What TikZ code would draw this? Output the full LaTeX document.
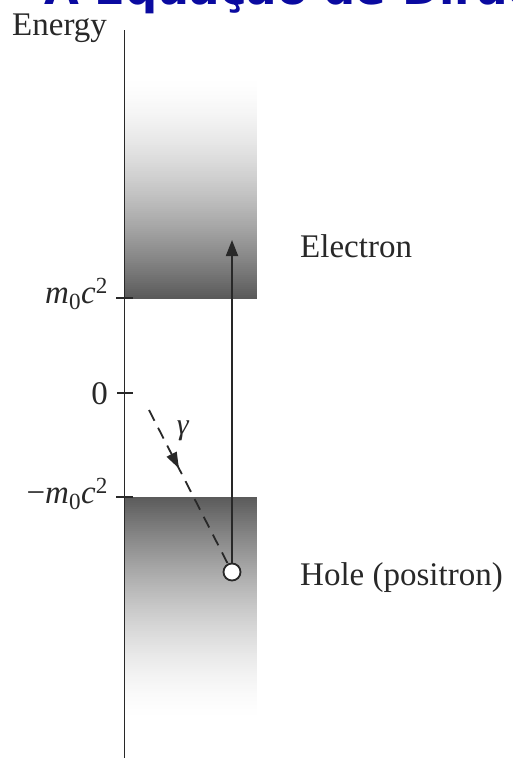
\documentclass[tikz,border=0pt]{standalone}
\usepackage{fontspec}
\setmainfont{Liberation Serif}
\newfontfamily\titlefont{DejaVu Sans}
\usetikzlibrary{arrows.meta,decorations.markings}
\definecolor{titleblue}{RGB}{10,10,160}
\definecolor{inkc}{RGB}{40,40,40}
\begin{document}
\begin{tikzpicture}[x=1pt,y=-1pt,
  lbl/.style={font=\fontsize{33}{36}\selectfont, text=inkc, inner sep=0pt},
  axisline/.style={draw=inkc, line width=1.6pt},
  bandstrip/.style={draw=none},
  photon/.style={draw=inkc, line width=1.8pt, dash pattern=on 12pt off 8pt,
    postaction={decorate},
    decoration={markings, mark=at position 0.38 with {\arrow{Triangle[length=16pt,width=11pt]}}}},
  jump/.style={draw=inkc, line width=1.8pt, -{Triangle[length=16pt,width=12pt]}},
  holecircle/.style={circle, draw=inkc, fill=white, line width=1.8pt, minimum size=17pt, inner sep=0pt}]
\useasboundingbox (0,0) rectangle (512,761);
\fill[white] (0,0) rectangle (512,761);
% partial title (only its lowest part lies inside the picture)
\begin{scope}
\clip (0,0) rectangle (512,761);
\node[anchor=south west, inner sep=0pt, text=titleblue, font=\titlefont\bfseries\fontsize{45}{50}\selectfont] (title) at (44,14) {A Equação de Dirac};
\end{scope}
% upper band (positive energies)
\begin{scope}
\clip (124,75) rectangle (257,298);
\foreach \i in {0,2,...,222} {
  \pgfmathsetmacro\p{64.7*(((\i+1)/223)^1.6)}
  \fill[black!\p, bandstrip] (124,75+\i) rectangle (257,75+\i+2.4);
}
\end{scope}
% lower band (negative energies)
\begin{scope}
\clip (124,497) rectangle (257,720);
\foreach \i in {0,2,...,222} {
  \pgfmathsetmacro\p{64.7*((1-(\i+1)/223)^1.6)}
  \fill[black!\p, bandstrip] (124,497+\i) rectangle (257,497+\i+2.4);
}
\end{scope}
% axis
\coordinate (axtop) at (124.5,30);
\coordinate (axbot) at (124.5,758);
\draw[axisline] (axtop) -- (axbot);
\draw[axisline] (116,298) -- (133,298);
\draw[axisline] (117,393) -- (133,393);
\draw[axisline] (116,497) -- (133,497);
% labels
\node[lbl, anchor=base west] (energy) at (12,35) {Energy};
\node[lbl, anchor=base east] (mc) at (108,303) {\textit{m}\textsubscript{0}\textit{c}\textsuperscript{2}};
\node[lbl, anchor=base east] (zero) at (108,404) {0};
\node[lbl, anchor=base east] (mmc) at (108,503) {−\textit{m}\textsubscript{0}\textit{c}\textsuperscript{2}};
\node[lbl, anchor=base west] (electron) at (300,257) {Electron};
\node[lbl, anchor=base west] (holelbl) at (300,585) {Hole (positron)};
% hole, jump arrow, photon
\node[holecircle] (hole) at (232,572) {};
\coordinate (tip) at (232,240);
\draw[jump] (hole.north) -- (tip);
\coordinate (gstart) at (149,410);
\draw[photon] (gstart) -- (hole);
\node[lbl, font=\fontsize{30}{32}\selectfont] (gam) at (183,431) {\textit{γ}};
\end{tikzpicture}
\end{document}
